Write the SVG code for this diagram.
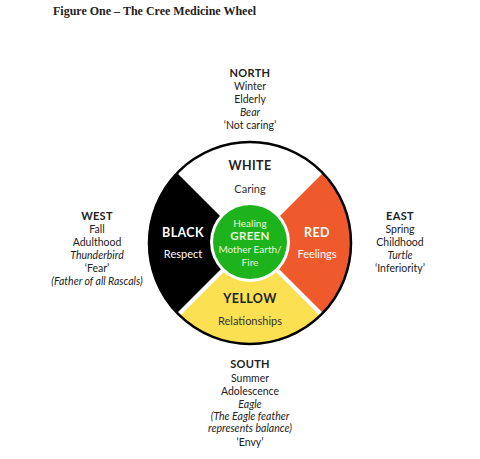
<svg xmlns="http://www.w3.org/2000/svg" width="480" height="459" viewBox="0 0 480 459">
<style>
.t{font-family:Lato,"Open Sans","DejaVu Sans",sans-serif;font-size:10.5px;fill:#222;text-anchor:middle}
.b{font-weight:bold;font-size:11px;letter-spacing:0.3px}
.i{font-style:italic}
.w{font-family:Lato,"Open Sans","DejaVu Sans",sans-serif;text-anchor:middle;font-size:11px}
.wh{font-weight:bold;font-size:12.5px;letter-spacing:0.4px}
.g{font-size:10px}
.gh{font-weight:bold;font-size:11.5px;letter-spacing:0.3px}
.title{font-family:"Liberation Serif","Times New Roman",serif;font-weight:bold;font-size:12px;fill:#222}
</style>
<rect width="480" height="459" fill="#fff"/>
<text class="title" x="53" y="15">Figure One – The Cree Medicine Wheel</text>

<g id="wheel">
  <circle cx="250" cy="243" r="101" fill="#fff"/>
  <path d="M250,243 L178.6,171.6 A101,101 0 0 0 178.6,314.4 Z" fill="#000"/>
  <path d="M250,243 L321.4,171.6 A101,101 0 0 1 321.4,314.4 Z" fill="#EE5A2C"/>
  <path d="M250,243 L321.4,314.4 A101,101 0 0 1 178.6,314.4 Z" fill="#FBE052"/>
  <g stroke="#fff" stroke-width="4">
    <line x1="178" y1="171" x2="322" y2="315"/>
    <line x1="322" y1="171" x2="178" y2="315"/>
  </g>
  <circle cx="250" cy="242" r="40" fill="#fff"/>
  <circle cx="250" cy="242" r="37" fill="#1DB31D"/>
  <circle cx="250" cy="243" r="101" fill="none" stroke="#000" stroke-width="2.5"/>
</g>

<g id="white">
  <text class="w wh" x="250" y="170" fill="#222">WHITE</text>
  <text class="w" x="250" y="193" fill="#333">Caring</text>
</g>
<g id="black">
  <text class="w wh" x="183" y="237" fill="#fff">BLACK</text>
  <text class="w" x="183" y="258" fill="#fff">Respect</text>
</g>
<g id="red">
  <text class="w wh" x="317" y="237" fill="#fff">RED</text>
  <text class="w" x="317" y="258" fill="#fff">Feelings</text>
</g>
<g id="yellow">
  <text class="w wh" x="250" y="303" fill="#222">YELLOW</text>
  <text class="w" x="250" y="325" fill="#333">Relationships</text>
</g>
<g id="green">
  <text class="w g" x="250" y="227" fill="#E6F7DC">Healing</text>
  <text class="w gh" x="250" y="239.5" fill="#E6F7DC">GREEN</text>
  <text class="w g" x="250" y="253" fill="#E6F7DC">Mother Earth/</text>
  <text class="w g" x="250" y="266" fill="#E6F7DC">Fire</text>
</g>

<g id="north">
  <text class="t b" x="250" y="77">NORTH</text>
  <text class="t" x="250" y="90">Winter</text>
  <text class="t" x="250" y="103">Elderly</text>
  <text class="t i" x="250" y="116">Bear</text>
  <text class="t" x="250" y="129">‘Not caring’</text>
</g>
<g id="west">
  <text class="t b" x="97" y="220">WEST</text>
  <text class="t" x="97" y="233">Fall</text>
  <text class="t" x="97" y="246">Adulthood</text>
  <text class="t i" x="97" y="259">Thunderbird</text>
  <text class="t" x="97" y="272">‘Fear’</text>
  <text class="t i" x="97" y="285">(Father of all Rascals)</text>
</g>
<g id="east">
  <text class="t b" x="400" y="220">EAST</text>
  <text class="t" x="400" y="233">Spring</text>
  <text class="t" x="400" y="246">Childhood</text>
  <text class="t i" x="400" y="259">Turtle</text>
  <text class="t" x="400" y="272">‘Inferiority’</text>
</g>
<g id="south">
  <text class="t b" x="250" y="368">SOUTH</text>
  <text class="t" x="250" y="382">Summer</text>
  <text class="t" x="250" y="395">Adolescence</text>
  <text class="t i" x="250" y="408">Eagle</text>
  <text class="t i" x="250" y="420">(The Eagle feather</text>
  <text class="t i" x="250" y="432">represents balance)</text>
  <text class="t" x="250" y="446">‘Envy’</text>
</g>
</svg>
